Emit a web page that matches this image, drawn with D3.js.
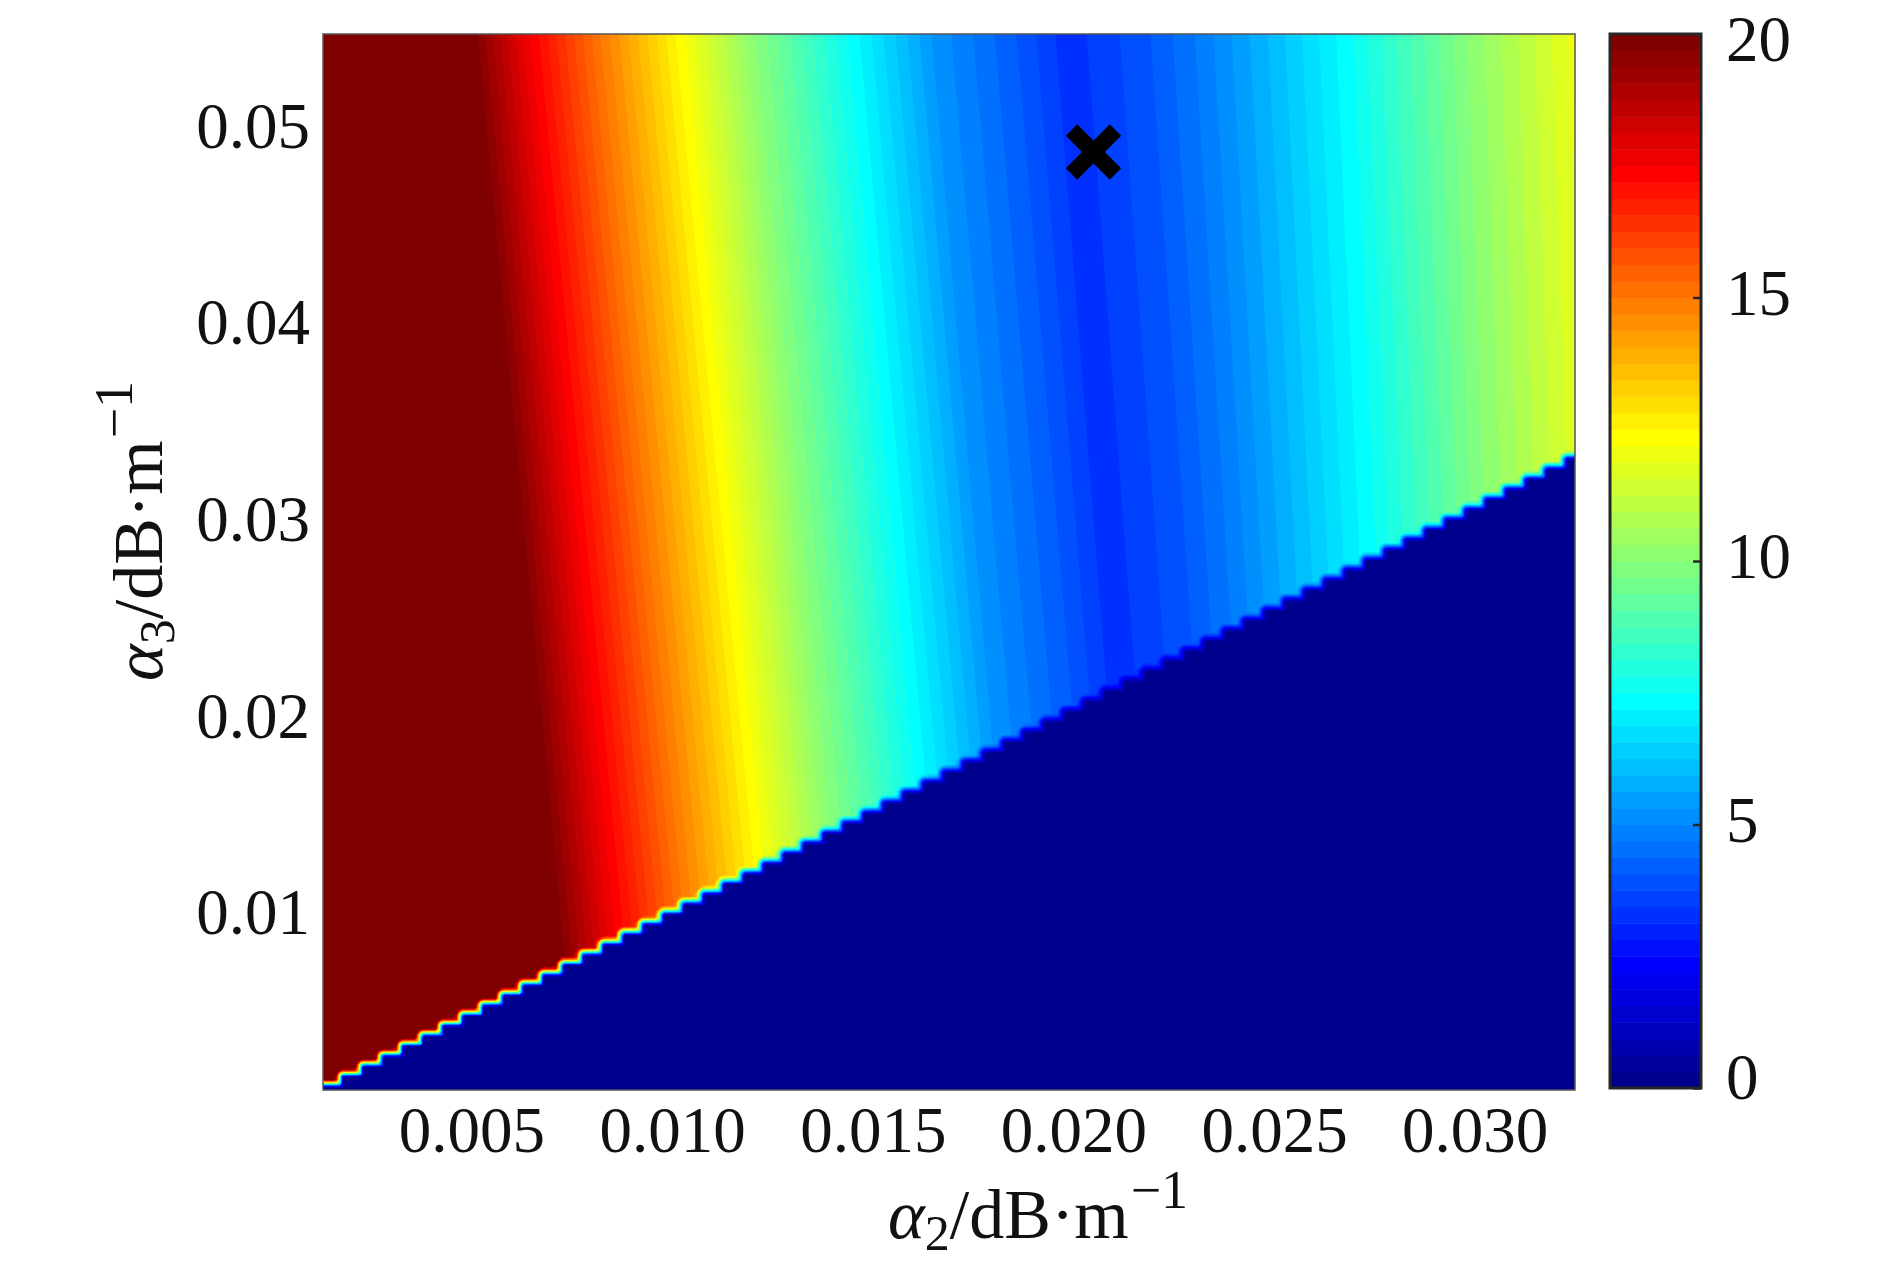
<!DOCTYPE html>
<html>
<head>
<meta charset="utf-8">
<script src="https://cdn.jsdelivr.net/npm/d3@7"></script>
<style>
  body { margin: 0; background: #fff; }
  svg text { font-family: "Liberation Serif", "DejaVu Serif", serif; fill: #111; }
</style>
</head>
<body>
<div id="chart"></div>
<script>
/* loss map over alpha2 / alpha3, drawn as filled contours with jet(64) */

// tick values
const xTicks = [0.005, 0.010, 0.015, 0.020, 0.025, 0.030];
const yTicks = [0.01, 0.02, 0.03, 0.04, 0.05];
const cTicks = [0, 5, 10, 15, 20];

const bandVal = [22, 20, 17.5, 15, 12.5, 10, 7.5, 5.25, 4, 3.25, 4, 4.75, 6, 7.5, 10, 12];
// ... and the alpha2 where each level sits along the top row (alpha3 = 0.0547)
const bandTopA2 = [0.0013, 0.00497, 0.00646, 0.00821, 0.01008, 0.01207, 0.01437, 0.01652,
                   0.01869, 0.01984, 0.02181, 0.02313, 0.02493, 0.02697, 0.02982, 0.0325];
// ... and along alpha3 = 0.025
const bandMidA2 = [0.0013, 0.00634, 0.00783, 0.00958, 0.01145, 0.01344, 0.01567, 0.01777,
                   0.01989, 0.02096, 0.02281, 0.02401, 0.02568, 0.02760, 0.03032, 0.03304];
const rowA3 = [0.0547, 0.025];

// edge of the zero region (lower right), stepped every 0.0005 in alpha2
const edgeA2 = [0.0013, 0.0325];
const edgeA3 = [0.0009, 0.0330];
const stepA2 = 0.0005;

// optimum marker
const optA2 = 0.0205;
const optA3 = 0.0487;

const W = 1890, H = 1276;
const a2min = 0.0013, a2max = 0.0325;
const a3min = 0.001, a3max = 0.0547;

const x = d3.scaleLinear().domain([a2min, a2max]).range([323, 1575]);
const y = d3.scaleLinear().domain([a3min, a3max]).range([1090, 34]);
const cScale = d3.scaleLinear().domain([0, 20]).range([1088, 34]);

// MATLAB jet(64)
function jet(k) {
  const i = k + 1;
  const u = j => (j < 1 || j > 47) ? 0 : (j <= 16 ? j / 16 : (j <= 31 ? 1 : (48 - j) / 16));
  return d3.rgb(u(i - 24) * 255, u(i - 8) * 255, u(i + 8) * 255).formatHex();
}

const svg = d3.select('#chart').append('svg')
  .attr('width', W)
  .attr('height', H);

// build the grid
const nx = 417, ny = 352;
const dA2 = (a2max - a2min) / nx;
const dA3 = (a3max - a3min) / ny;
const edge = d3.scaleLinear().domain(edgeA2).range(edgeA3);
const ramp = 8; // px, blurred rim along the steps

// screen y of the step bottom for column c, and right edge x of column c
const stepY = c => y(edge(edgeA2[0] + (c + 0.5) * stepA2));
const stepXR = c => x(edgeA2[0] + (c + 1) * stepA2);

const values = new Float64Array(nx * ny);
for (let j = 0; j < ny; j++) {
  const a3 = a3max - (j + 0.5) * dA3;
  const py = y(a3);
  const w = (rowA3[0] - a3) / (rowA3[0] - rowA3[1]);
  const pos = bandTopA2.map((t, k) => t + (bandMidA2[k] - t) * w);
  const row = d3.scaleLinear().domain(pos).range(bandVal);
  for (let i = 0; i < nx; i++) {
    const a2 = a2min + (i + 0.5) * dA2;
    const px = x(a2);
    const c = Math.floor((a2 - edgeA2[0]) / stepA2);
    const yb = stepY(c);
    let v = 0;
    if (py < yb) {
      // distance to the zero region: own step below, or next step to the right
      let d = yb - py;
      const yn = stepY(c + 1);
      const dx = stepXR(c) - px;
      d = Math.min(d, py > yn ? dx : Math.hypot(dx, yn - py));
      v = row(a2) * Math.min(1, d / ramp);
    }
    values[j * nx + i] = v;
  }
}

const levels = d3.range(64).map(k => k * 20 / 64);
const contours = d3.contours().size([nx, ny]).thresholds(levels)(values);

const path = d3.geoPath(d3.geoTransform({
  point: function (u, v) {
    this.stream.point(x(a2min + u * dA2), y(a3max - v * dA3));
  }
}));

svg.append('g').selectAll('path.band')
  .data(contours)
  .enter().append('path')
  .attr('class', 'band')
  .attr('d', path)
  .attr('fill', (d, k) => jet(k));

// plot frame
svg.append('rect')
  .attr('x', x(a2min)).attr('y', y(a3max))
  .attr('width', x(a2max) - x(a2min))
  .attr('height', y(a3min) - y(a3max))
  .attr('fill', 'none')
  .attr('stroke', '#555')
  .attr('stroke-width', 1.5);

// marker
const mx = x(optA2), my = y(optA3);
svg.append('path')
  .attr('d', `M${mx - 22},${my - 22}L${mx + 22},${my + 22}M${mx - 22},${my + 22}L${mx + 22},${my - 22}`)
  .attr('stroke', '#000')
  .attr('stroke-width', 16)
  .attr('fill', 'none');

// axes
const xAxis = svg.append('g')
  .attr('transform', 'translate(0,1090)')
  .call(d3.axisBottom(x).tickValues(xTicks).tickFormat(d3.format('.3f')).tickSize(0).tickPadding(16));
const yAxis = svg.append('g')
  .attr('transform', 'translate(323,0)')
  .call(d3.axisLeft(y).tickValues(yTicks).tickFormat(d3.format('.2f')).tickSize(0).tickPadding(13));
[xAxis, yAxis].forEach(a => {
  a.select('.domain').remove();
  a.selectAll('text').style('font-size', '65px').attr('fill', '#111');
});

// colour bar
const cb = svg.append('g');
cb.selectAll('rect.lev')
  .data(levels)
  .enter().append('rect')
  .attr('class', 'lev')
  .attr('x', 1610)
  .attr('width', 91)
  .attr('y', d => cScale(d + 20 / 64))
  .attr('height', d => cScale(d) - cScale(d + 20 / 64) + 0.5)
  .attr('fill', (d, k) => jet(k));
cb.append('rect')
  .attr('x', 1610).attr('y', 34)
  .attr('width', 91).attr('height', 1088 - 34)
  .attr('fill', 'none')
  .attr('stroke', '#262626')
  .attr('stroke-width', 3);
const cAxis = svg.append('g')
  .attr('transform', 'translate(1701,0)')
  .call(d3.axisRight(cScale).tickValues(cTicks).tickSize(-8).tickPadding(25));
cAxis.select('.domain').remove();
cAxis.selectAll('line').attr('stroke', '#262626').attr('stroke-width', 2.5);
cAxis.selectAll('text')
  .style('font-size', '65px')
  .attr('fill', '#111')
  .attr('y', d => d === 20 ? 6 : (d === 0 ? -10 : -4));

// axis labels
const xl = svg.append('text')
  .attr('x', 888).attr('y', 1238)
  .style('font-size', '70px');
xl.append('tspan').style('font-style', 'italic').text('α');
xl.append('tspan').style('font-size', '50px').attr('dy', 12).text('2');
xl.append('tspan').attr('dy', -12).text('/dB·m');
xl.append('tspan').style('font-size', '54px').attr('dx', 2).attr('dy', -30).text('−1');

const yl = svg.append('text')
  .attr('transform', 'translate(162,681) rotate(-90)')
  .style('font-size', '70px');
yl.append('tspan').style('font-style', 'italic').text('α');
yl.append('tspan').style('font-size', '50px').attr('dy', 12).text('3');
yl.append('tspan').attr('dy', -12).text('/dB·m');
yl.append('tspan').style('font-size', '54px').attr('dx', 2).attr('dy', -30).text('−1');
</script>
</body>
</html>
